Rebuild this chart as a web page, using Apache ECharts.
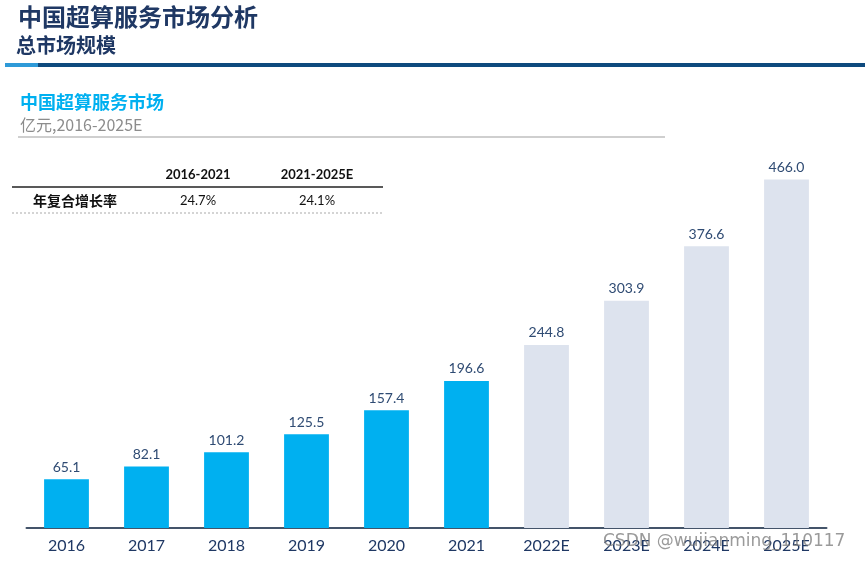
<!DOCTYPE html>
<html>
<head>
<meta charset="utf-8">
<script src="https://cdn.jsdelivr.net/npm/echarts@6/dist/echarts.min.js"></script>
<style>html,body{margin:0;padding:0;background:#fff;}#c{width:865px;height:562px;}</style>
</head>
<body>
<div id="c"></div>
<script>
const categories = ['2016','2017','2018','2019','2020','2021','2022E','2023E','2024E','2025E'];
const values = [65.1, 82.1, 101.2, 125.5, 157.4, 196.6, 244.8, 303.9, 376.6, 466.0];
const cagrHeaders = ['2016-2021', '2021-2025E'];
const cagrRowLabel = '年复合增长率';
const cagrValues = ['24.7%', '24.1%'];
const title = '中国超算服务市场分析';
const subtitle = '总市场规模';
const chartTitle = '中国超算服务市场';
const chartUnit = '亿元,2016-2025E';
const watermark = 'CSDN @wujianming_110117';

const CJK = '"Noto Sans CJK SC", sans-serif';
const NUM = 'Lato, "Noto Sans", sans-serif';
const navy = '#1f3864';
const labelColor = '#2f4b73';

const chart = echarts.init(document.getElementById('c'), null, {renderer: 'canvas'});
chart.setOption({
  animation: false,
  backgroundColor: '#fff',
  grid: {left: 26.5, right: 38.5, top: 154, bottom: 34, containLabel: false},
  xAxis: {
    type: 'category',
    data: categories,
    axisLine: {show: true, lineStyle: {color: '#44546a', width: 2}},
    axisTick: {show: false},
    axisLabel: {color: navy, fontFamily: NUM, fontSize: 16, margin: 10}
  },
  yAxis: {
    type: 'value', min: 0, max: 500,
    show: false, splitLine: {show: false}
  },
  series: [{
    type: 'bar',
    data: values,
    barWidth: '56%',
    itemStyle: {
      color: p => categories[p.dataIndex].endsWith('E') ? '#dde3ee' : '#00b0f0'
    },
    label: {
      show: true, position: 'top', distance: 5,
      color: labelColor, fontFamily: NUM, fontSize: 14,
      formatter: p => p.value.toFixed(1)
    }
  }],
  graphic: [
    {type: 'text', left: 18, top: 5, style: {text: title, font: 'bold 24px ' + CJK, fill: navy}},
    {type: 'text', left: 16, top: 35, style: {text: subtitle, font: 'bold 20px ' + CJK, fill: navy}},
    {type: 'rect', shape: {x: 5, y: 63, width: 33, height: 4}, style: {fill: '#2e9ad8'}},
    {type: 'rect', shape: {x: 38, y: 63, width: 827, height: 4}, style: {fill: '#0e4a7e'}},
    {type: 'text', left: 20, top: 93, style: {text: chartTitle, font: 'bold 18px ' + CJK, fill: '#00b0f0'}},
    {type: 'text', left: 20, top: 117, style: {text: chartUnit, font: '16px ' + CJK, fill: '#8c8c8c'}},
    {type: 'line', shape: {x1: 18, y1: 137, x2: 665, y2: 137}, style: {stroke: '#bfbfbf', lineWidth: 1.5}},
    {type: 'text', x: 198, y: 175, style: {text: cagrHeaders[0], font: 'bold 13px ' + NUM, fill: '#111', align: 'center', verticalAlign: 'middle'}},
    {type: 'text', x: 317, y: 175, style: {text: cagrHeaders[1], font: 'bold 13px ' + NUM, fill: '#111', align: 'center', verticalAlign: 'middle'}},
    {type: 'line', shape: {x1: 12, y1: 187, x2: 383, y2: 187}, style: {stroke: '#222', lineWidth: 1.5}},
    {type: 'text', x: 75, y: 201, style: {text: cagrRowLabel, font: 'bold 14px ' + CJK, fill: '#111', align: 'center', verticalAlign: 'middle'}},
    {type: 'text', x: 198, y: 201, style: {text: cagrValues[0], font: '13px ' + NUM, fill: '#111', align: 'center', verticalAlign: 'middle'}},
    {type: 'text', x: 317, y: 201, style: {text: cagrValues[1], font: '13px ' + NUM, fill: '#111', align: 'center', verticalAlign: 'middle'}},
    {type: 'line', shape: {x1: 12, y1: 213, x2: 383, y2: 213}, style: {stroke: '#aaaaaa', lineWidth: 1, lineDash: [2, 2]}},
    {type: 'text', x: 603, y: 542, z: 100, style: {text: watermark, font: '17px "DejaVu Sans", sans-serif', fill: 'rgba(120,120,120,0.75)', verticalAlign: 'middle'}}
  ]
});
</script>
</body>
</html>
